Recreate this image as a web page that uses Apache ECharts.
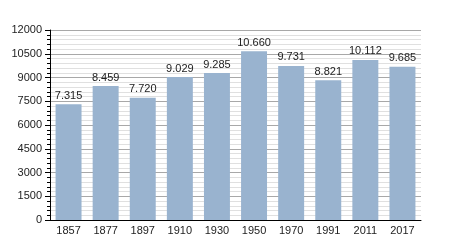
<!DOCTYPE html>
<html><head><meta charset="utf-8">
<script src="https://cdn.jsdelivr.net/npm/echarts@6/dist/echarts.min.js"></script>
<style>html,body{margin:0;padding:0;background:#fff}#c{width:450px;height:250px}</style>
</head><body><div id="c"></div>
<script>
var years = ['1857','1877','1897','1910','1930','1950','1970','1991','2011','2017'];
var population = [7315, 8459, 7720, 9029, 9285, 10660, 9731, 8821, 10112, 9685];
var yTicks = [0, 1500, 3000, 4500, 6000, 7500, 9000, 10500, 12000];

function fmt(v){ return String(v).replace(/\B(?=(\d{3})+(?!\d))/g, '.'); }

var chart = echarts.init(document.getElementById('c'), null, {renderer:'canvas'});
chart.setOption({
  animation:false,
  grid:{left:50, right:29, top:30, bottom:30},
  xAxis:{
    type:'category', data:years,
    axisLine:{lineStyle:{color:'#000', width:1}},
    axisTick:{show:false},
    axisLabel:{color:'#222', fontSize:11, fontFamily:'Liberation Sans, Arial', margin:5}
  },
  yAxis:{
    type:'value', min:yTicks[0], max:yTicks[yTicks.length-1], interval:1500,
    axisLine:{show:true, lineStyle:{color:'#000', width:1}},
    axisTick:{show:true, length:5, lineStyle:{color:'#000'}},
    minorTick:{show:true, splitNumber:5, length:3, lineStyle:{color:'#000'}},
    splitLine:{show:true, lineStyle:{color:'#a8a8a8', width:1}},
    minorSplitLine:{show:true, lineStyle:{color:'#e0e0e0', width:1}},
    axisLabel:{color:'#222', fontSize:11, fontFamily:'Liberation Sans, Arial', margin:8,
      formatter:function(v){return String(v);}}
  },
  series:[{
    type:'bar', data:population, barCategoryGap:'30%',
    itemStyle:{color:'#99b3cf'},
    label:{show:true, position:'top', distance:3, color:'#222', fontSize:11, fontFamily:'Liberation Sans, Arial',
      formatter:function(p){return fmt(p.value);}}
  }]
});
</script></body></html>
